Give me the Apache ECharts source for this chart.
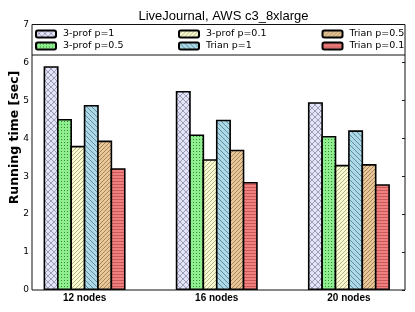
<!DOCTYPE html>
<html><head><meta charset="utf-8">
<script src="https://cdn.jsdelivr.net/npm/echarts@6/dist/echarts.min.js"></script>
<style>html,body{margin:0;padding:0;background:#fff}#c{width:415px;height:312px}</style>
</head><body><div id="c"></div>
<script>
const categories = ['12 nodes', '16 nodes', '20 nodes'];
const seriesNames = ['3-prof p=1', '3-prof p=0.5', '3-prof p=0.1', 'Trian p=1', 'Trian p=0.5', 'Trian p=0.1'];
const prof1 = [5.9, 5.25, 4.95];
const prof05 = [4.51, 4.10, 4.06];
const prof01 = [3.80, 3.45, 3.30];
const trian1 = [4.88, 4.49, 4.21];
const trian05 = [3.94, 3.70, 3.32];
const trian01 = [3.21, 2.85, 2.79];
const yTicks = [0, 1, 2, 3, 4, 5, 6, 7];

function pattern(bg, fg, kind) {
  const s = kind === 'dots' ? 3 : (kind === 'h' ? 3 : (kind === 'x' ? 6 : (kind === 'b' ? 5 : 4)));
  const c = document.createElement('canvas');
  c.width = s; c.height = s;
  const g = c.getContext('2d');
  g.fillStyle = bg; g.fillRect(0, 0, s, s);
  g.strokeStyle = fg; g.fillStyle = fg; g.lineWidth = 1;
  if (kind === 'x') {
    g.beginPath();
    g.moveTo(0, 0); g.lineTo(s, s);
    g.moveTo(s, 0); g.lineTo(0, s);
    g.stroke();
  } else if (kind === 'dots') {
    g.fillRect(1, 1, 1, 1);
  } else if (kind === 'h') {
    g.fillRect(0, 1, s, 1);
  } else if (kind === 'f') {
    g.beginPath();
    g.moveTo(0, s); g.lineTo(s, 0);
    g.moveTo(-1, 1); g.lineTo(1, -1);
    g.moveTo(s - 1, s + 1); g.lineTo(s + 1, s - 1);
    g.stroke();
  } else if (kind === 'b') {
    g.beginPath();
    g.moveTo(0, 0); g.lineTo(s, s);
    g.moveTo(-1, s - 1); g.lineTo(1, s + 1);
    g.moveTo(s - 1, -1); g.lineTo(s + 1, 1);
    g.stroke();
  }
  return { image: c, repeat: 'repeat' };
}

const styles = [
  pattern('#e4e4f8', '#9c9cb4', 'x'),
  pattern('#90ee90', '#2f8f2f', 'dots'),
  pattern('#fafad2', '#b4b488', 'f'),
  pattern('#add8e6', '#5f8ea0', 'b'),
  pattern('#e8c89a', '#a88458', 'f'),
  pattern('#f08080', '#c85a5a', 'h')
];
const values = [prof1, prof05, prof01, trian1, trian05, trian01];

const chart = echarts.init(document.getElementById('c'), null, { renderer: 'canvas' });
const legendFont = { fontFamily: 'DejaVu Sans', fontSize: 9.5, color: '#000', lineHeight: 12, padding: [0, 0, 0, 2] };
function legendCol(left, names) {
  return {
    orient: 'vertical', left: left, top: 28, padding: 0, itemWidth: 20, itemHeight: 7, itemGap: 0,
    textStyle: legendFont, data: names, selectedMode: false
  };
}
chart.setOption({
  animation: false,
  title: {
    text: 'LiveJournal, AWS c3_8xlarge', left: 218.5, textAlign: 'center', top: 5,
    textStyle: { fontFamily: 'Liberation Sans', fontSize: 13, fontWeight: 'normal', color: '#000' }
  },
  legend: [
    legendCol(35, [seriesNames[0], seriesNames[1]]),
    legendCol(178, [seriesNames[2], seriesNames[3]]),
    legendCol(321.5, [seriesNames[4], seriesNames[5]])
  ],
  grid: [
    { left: 32, top: 24.5, width: 373, height: 265.5, show: true, borderColor: '#111', borderWidth: 1, backgroundColor: 'transparent', z: 5 },
    { left: 18.5, top: 24.5, width: 400.8, height: 265.5 }
  ],
  xAxis: [
    { gridIndex: 0, type: 'category', data: categories, axisLine: { show: false }, axisTick: { show: false }, axisLabel: { show: false } },
    { gridIndex: 1, type: 'category', data: categories, axisLine: { show: false }, axisTick: { show: false },
      axisLabel: { margin: 3, fontFamily: 'Liberation Sans', fontWeight: 'bold', fontSize: 10, color: '#000' } }
  ],
  yAxis: [
    { gridIndex: 0, type: 'value', min: 0, max: 7, interval: 1, position: 'left',
      axisLine: { show: false }, splitLine: { show: false },
      axisTick: { inside: true, length: 3, lineStyle: { color: '#222' } },
      axisLabel: { margin: 3, fontFamily: 'DejaVu Sans', fontSize: 9, color: '#000',
        formatter: v => (yTicks.indexOf(v) >= 0 ? String(v) : '') } },
    { gridIndex: 0, type: 'value', min: 0, max: 7, interval: 1, position: 'right',
      axisLine: { show: false }, splitLine: { show: false },
      axisTick: { show: true, inside: true, length: 3, lineStyle: { color: '#222' } },
      axisLabel: { show: false } },
    { gridIndex: 1, type: 'value', min: 0, max: 7, interval: 1, show: false, splitLine: { show: false } }
  ],
  series: seriesNames.map((n, i) => ({
    name: n, type: 'bar', xAxisIndex: 1, yAxisIndex: 2, data: values[i],
    barWidth: 15, barGap: '-10.7%',
    itemStyle: { color: styles[i], borderColor: '#000', borderWidth: 1.6 }
  })),
  graphic: [
    { type: 'line', shape: { x1: 32, y1: 55, x2: 405, y2: 55 }, style: { stroke: '#111', lineWidth: 1 }, z: 10 },
    { type: 'text', x: 15, y: 137.5, rotation: Math.PI / 2,
      style: { text: 'Running time [sec]', fontFamily: 'DejaVu Sans', fontWeight: 'bold', fontSize: 12.5, fill: '#000',
        textAlign: 'center', textVerticalAlign: 'middle' } }
  ]
});
</script></body></html>
